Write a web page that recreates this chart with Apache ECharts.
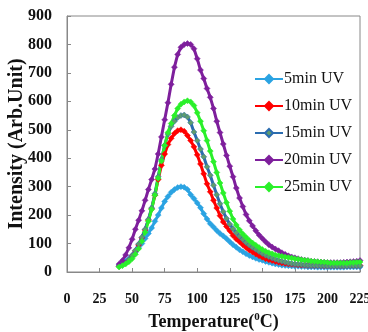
<!DOCTYPE html>
<html>
<head>
<meta charset="utf-8">
<script src="https://cdn.jsdelivr.net/npm/echarts@6/dist/echarts.min.js"></script>
<style>
  html, body { margin: 0; padding: 0; background: #fff; }
  #chart { width: 368px; height: 332px; }
</style>
</head>
<body>
<div id="chart"></div>
<script>
// temperature points (deg C)
var temps = [40, 42.5, 45, 47.5, 50, 52.5, 55, 57.5, 60, 62.5, 65, 67.5, 70, 72.5, 75, 77.5, 80, 82.5, 85, 87.5,
  90, 92.5, 95, 97.5, 100, 102.5, 105, 107.5, 110, 112.5, 115, 117.5, 120, 122.5, 125, 127.5, 130, 132.5, 135,
  137.5, 140, 142.5, 145, 147.5, 150, 152.5, 155, 157.5, 160, 162.5, 165, 167.5, 170, 172.5, 175, 177.5, 180,
  182.5, 185, 187.5, 190, 192.5, 195, 197.5, 200, 202.5, 205, 207.5, 210, 212.5, 215, 217.5, 220, 222.5, 225];

// intensity (arb. unit) per UV exposure
var uv5 = [25, 30, 38, 47, 58, 70, 85, 100, 118, 135, 155, 178, 200, 225, 248, 265, 280, 290, 297, 300,
  298, 290, 272, 258, 243, 226, 205, 186, 170, 158, 146, 135, 127, 117, 106, 96, 87, 78, 71,
  64, 58, 53, 48, 44, 41, 37, 34, 31, 28, 26, 24, 23, 22, 21, 20, 20, 19,
  19, 18, 18, 18, 17, 17, 17, 17, 17, 17, 17, 17, 17, 18, 18, 18, 18, 18];
var uv10 = [20, 25, 32, 42, 57, 74, 95, 120, 148, 182, 222, 270, 325, 375, 415, 448, 470, 487, 497, 500,
  495, 480, 462, 440, 412, 380, 345, 310, 282, 252, 225, 198, 176, 160, 145, 128, 116, 106, 96,
  86, 77, 70, 63, 57, 52, 47, 43, 40, 37, 34, 32, 30, 28, 27, 26, 25, 24,
  24, 23, 23, 22, 22, 22, 21, 21, 21, 21, 21, 21, 21, 22, 22, 22, 22, 23];
var uv15 = [20, 26, 32, 43, 58, 76, 98, 122, 150, 185, 225, 275, 335, 395, 445, 485, 512, 530, 543, 550,
  552, 545, 525, 492, 462, 432, 405, 370, 340, 305, 272, 240, 212, 188, 168, 152, 138, 126, 115,
  104, 95, 87, 80, 72, 65, 59, 54, 49, 45, 41, 38, 35, 32, 30, 28, 27, 26,
  25, 24, 23, 23, 22, 22, 22, 21, 21, 21, 21, 21, 21, 21, 22, 22, 22, 22];
var uv20 = [28, 40, 60, 85, 115, 150, 182, 215, 252, 290, 325, 362, 415, 475, 535, 595, 660, 720, 765, 790,
  800, 803, 800, 785, 750, 710, 680, 645, 614, 575, 530, 490, 450, 410, 372, 335, 295, 260, 230,
  202, 180, 162, 145, 130, 118, 106, 96, 88, 81, 75, 68, 62, 57, 53, 50, 47, 44,
  42, 40, 38, 37, 36, 35, 34, 33, 33, 33, 33, 33, 34, 35, 36, 37, 38, 40];
var uv25 = [18, 22, 28, 36, 47, 62, 82, 108, 140, 178, 220, 270, 330, 390, 445, 490, 522, 550, 575, 590,
  598, 602, 598, 585, 560, 530, 497, 462, 425, 388, 350, 313, 278, 244, 214, 186, 165, 148, 134,
  122, 111, 102, 94, 86, 79, 73, 68, 64, 60, 57, 55, 53, 51, 49, 47, 45, 43,
  41, 40, 38, 37, 36, 35, 34, 33, 32, 32, 32, 32, 32, 32, 33, 33, 34, 35];

var names = ['5min UV', '10min UV', '15min UV', '20min UV', '25min UV'];
var colors = ['#2BA3E2', '#FF0000', '#2B6CB0', '#7E1F9C', '#2AF02A'];
var markColors = ['#2BA3E2', '#FF0000', '#5E9C6E', '#7E1F9C', '#2AF02A'];

var serif = '"Liberation Serif", "DejaVu Serif", serif';

function pairs(vals) {
  var out = [];
  for (var i = 0; i < temps.length; i++) out.push([temps[i], vals[i]]);
  return out;
}

var allData = [uv5, uv10, uv15, uv20, uv25];
var series = [];
for (var k = 0; k < allData.length; k++) {
  series.push({
    name: names[k],
    type: 'line',
    data: pairs(allData[k]),
    symbol: 'diamond',
    symbolSize: 6,
    showAllSymbol: true,
    lineStyle: { color: colors[k], width: 3 },
    itemStyle: { color: markColors[k], borderColor: colors[k], borderWidth: 0.5 }
  });
}

var myChart = echarts.init(document.getElementById('chart'));
myChart.setOption({
  backgroundColor: '#fff',
  animation: false,
  grid: {
    left: 67, right: 8, top: 16, bottom: 60,
    outerBoundsMode: 'none',
    show: true, borderColor: '#888', borderWidth: 1
  },
  legend: {
    orient: 'vertical',
    left: 249,
    top: 66,
    itemWidth: 28,
    itemHeight: 10,
    itemGap: 11,
    data: names,
    textStyle: { fontFamily: serif, fontSize: 16, color: '#111', padding: [0, 0, 0, -4] }
  },
  xAxis: {
    type: 'value',
    min: 0,
    max: 225,
    interval: 25,
    name: '{a|Temperature(}{b|0}{a|C)}',
    nameLocation: 'middle',
    nameGap: 40,
    nameMoveOverlap: false,
    nameTextStyle: {
      rich: {
        a: { fontFamily: serif, fontSize: 18, fontWeight: 'bold', color: '#111', lineHeight: 20 },
        b: { fontFamily: serif, fontSize: 11, fontWeight: 'bold', color: '#111', verticalAlign: 'top', lineHeight: 20 }
      }
    },
    axisLine: { lineStyle: { color: '#888' } },
    axisTick: { inside: true, length: 4, lineStyle: { color: '#888' } },
    splitLine: { show: false },
    axisLabel: { margin: 20, fontFamily: serif, fontSize: 14, fontWeight: 'bold', color: '#111' }
  },
  yAxis: {
    type: 'value',
    min: 0,
    max: 900,
    interval: 100,
    name: 'Intensity (Arb.Unit)',
    nameLocation: 'middle',
    nameGap: 40,
    nameMoveOverlap: false,
    nameTextStyle: { fontFamily: serif, fontSize: 20, fontWeight: 'bold', color: '#111' },
    axisLine: { show: true, lineStyle: { color: '#888' } },
    axisTick: { show: true, inside: true, length: 4, lineStyle: { color: '#888' } },
    splitLine: { show: false },
    axisLabel: { margin: 15, fontFamily: serif, fontSize: 16, fontWeight: 'bold', color: '#111' }
  },
  series: series
});
</script>
</body>
</html>
